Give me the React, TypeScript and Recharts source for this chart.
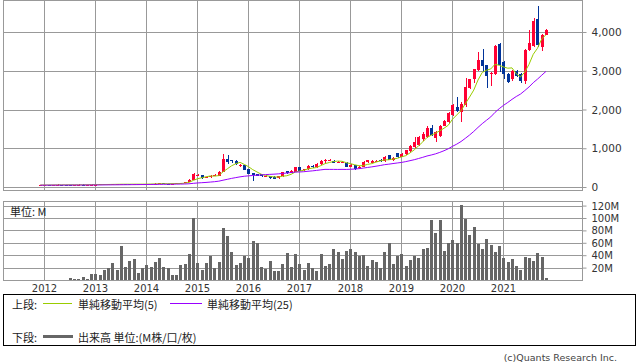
import React from 'react';
import { ComposedChart, Bar, Line, XAxis, YAxis, CartesianGrid } from 'recharts';

// Month index: 0 = Jan 2012; series start at Dec 2011 (-1) and end at Nov 2021 (118)
const FIRST_MONTH = -1;

const openPrices = [
  60, 62, 66, 64, 70, 74, 68, 66, 65, 72, 76, 71, 75,
  76, 76, 78, 80, 82, 84, 85, 88, 86, 84, 85, 86,
  88, 90, 95, 100, 104, 100, 96, 100, 105, 120, 135, 200,
  315, 320, 245, 265, 300, 300, 400, 724, 700, 690, 560, 575,
  465, 370, 350, 340, 290, 284, 280, 240, 285, 420, 385, 405,
  525, 440, 470, 555, 520, 600, 680, 700, 690, 640, 650, 640,
  540, 570, 500, 540, 650, 640, 660, 720, 680, 830, 700, 880,
  790, 860, 940, 1040, 1100, 1240, 1300, 1540, 1290, 1320, 1600, 1690,
  1860, 2080, 1950, 2120, 2576, 2790, 3030, 3300, 3150, 2940, 2920, 3714,
  3240, 2920, 2790, 3000, 2940, 2740, 3540, 3650, 4360, 3630, 3945,
];
const highPrices = [
  65, 70, 68, 73, 78, 76, 70, 68, 74, 79, 78, 77, 79,
  80, 81, 84, 86, 88, 88, 96, 92, 90, 89, 88, 90,
  94, 98, 104, 110, 106, 102, 103, 108, 126, 140, 210, 362,
  355, 330, 280, 320, 350, 415, 870, 836, 720, 710, 610, 585,
  470, 380, 360, 350, 320, 290, 290, 300, 400, 430, 440, 540,
  540, 490, 570, 570, 640, 700, 740, 740, 700, 690, 690, 660,
  600, 590, 560, 690, 720, 700, 720, 740, 820, 850, 790, 900,
  890, 980, 1090, 1300, 1340, 1420, 1580, 1620, 1450, 1620, 1740, 1940,
  2160, 2330, 2200, 2820, 2810, 3070, 3500, 3585, 3160, 2980, 3670, 3730,
  3260, 2950, 3020, 3030, 2960, 3570, 4075, 4380, 4680, 3960, 4090,
];
const lowPrices = [
  58, 60, 62, 63, 68, 66, 64, 62, 64, 70, 69, 70, 73,
  73, 75, 77, 78, 80, 81, 83, 84, 82, 82, 83, 84,
  86, 88, 93, 98, 97, 93, 94, 98, 103, 115, 130, 190,
  285, 230, 235, 255, 285, 290, 390, 595, 640, 590, 540, 440,
  340, 180, 290, 280, 270, 230, 215, 230, 280, 350, 370, 400,
  420, 420, 460, 500, 510, 590, 640, 680, 620, 620, 630, 530,
  520, 440, 480, 530, 630, 620, 650, 670, 670, 700, 680, 760,
  780, 850, 920, 1020, 1080, 1200, 1280, 1340, 1170, 1300, 1580, 1660,
  1840, 1960, 1690, 2080, 2550, 2700, 3000, 2980, 2576, 2630, 2900, 2980,
  2800, 2700, 2760, 2850, 2700, 2680, 3520, 3630, 3630, 3520, 3940,
];
const closePrices = [
  62, 66, 64, 70, 74, 68, 66, 65, 72, 76, 71, 75, 76,
  76, 78, 80, 82, 84, 85, 88, 86, 84, 85, 86, 88,
  90, 95, 100, 104, 100, 96, 100, 105, 120, 135, 200, 350,
  325, 245, 265, 300, 330, 400, 724, 650, 690, 600, 580, 460,
  355, 310, 300, 290, 300, 245, 230, 285, 390, 370, 420, 525,
  430, 470, 555, 520, 600, 680, 720, 705, 640, 660, 660, 540,
  580, 490, 540, 670, 700, 680, 690, 690, 800, 720, 770, 790,
  870, 960, 1070, 1170, 1300, 1380, 1540, 1360, 1430, 1600, 1720, 1920,
  2140, 1980, 2150, 2600, 2790, 3050, 3280, 3128, 2880, 2960, 3645, 3150,
  2920, 2720, 3000, 2890, 2740, 3540, 3720, 4300, 3670, 3945, 4075,
];
const ma5Values = [
  64, 64, 64, 65, 67, 68, 68, 69, 69, 69, 70, 72, 74,
  75, 75, 77, 78, 80, 82, 84, 85, 85, 86, 86, 86,
  87, 89, 92, 95, 98, 99, 100, 101, 104, 111, 132, 182,
  226, 251, 277, 297, 293, 308, 404, 481, 559, 613, 649, 596,
  537, 461, 401, 343, 311, 289, 273, 270, 290, 304, 339, 398,
  427, 443, 480, 500, 515, 565, 615, 645, 669, 681, 677, 641,
  616, 586, 562, 564, 596, 616, 656, 686, 712, 716, 734, 754,
  790, 822, 892, 972, 1074, 1176, 1292, 1350, 1402, 1462, 1530, 1606,
  1762, 1872, 1982, 2158, 2332, 2514, 2774, 2970, 3026, 3060, 3179, 3153,
  3111, 3079, 3087, 2936, 2854, 2978, 3178, 3438, 3594, 3835, 3942,
];
const ma25Values = [
  60, 60, 61, 61, 61, 62, 62, 62, 63, 63, 64, 64, 65,
  66, 66, 67, 68, 69, 70, 71, 72, 73, 74, 75, 76,
  77, 79, 80, 81, 82, 84, 85, 87, 88, 91, 96, 107,
  117, 124, 131, 140, 150, 163, 188, 211, 235, 255, 275, 290,
  301, 310, 318, 325, 333, 339, 344, 352, 363, 373, 385, 398,
  401, 407, 419, 429, 441, 455, 468, 467, 467, 466, 468, 466,
  471, 477, 486, 501, 517, 532, 550, 568, 589, 602, 618, 633,
  647, 668, 692, 717, 748, 779, 813, 839, 868, 906, 949, 999,
  1063, 1119, 1186, 1268, 1353, 1447, 1551, 1648, 1736, 1822, 1939, 2035,
  2120, 2194, 2275, 2348, 2411, 2501, 2594, 2705, 2797, 2898, 2997,
];
// volume in millions of shares
const volumeM = [
  1.0, 1.2, 0.8, 1.0, 1.0, 1.2, 1.0, 4.0, 2.5, 2.5, 5.7, 2.5, 10.6,
  10.6, 8.5, 17, 20.5, 29, 17, 55, 22, 32, 35, 12, 20.5,
  25, 21, 30, 37, 22.5, 20.5, 9.5, 9.5, 25, 27, 43.5, 100.5,
  28.5, 17.2, 28.5, 39.5, 19.5, 30, 84, 71, 46.7, 25.2, 28.5, 39.5,
  36.5, 64.5, 60.5, 22.2, 19, 31.6, 15.6, 15.6, 27, 45, 21, 42.3,
  27, 16.5, 28.7, 20.6, 15.8, 43.5, 23.8, 27, 51.6, 45.3, 35.2, 48.3,
  51.6, 46.6, 40.1, 41.8, 23.7, 33.6, 29.3, 20, 46.6, 60, 27, 39.6,
  43.4, 23.7, 33.6, 39, 36.9, 50, 52.2, 98.1, 76.8, 98.1, 47.2, 60,
  64.7, 60.9, 121, 99.7, 73.5, 86, 58.7, 50, 66.4, 57, 46.6, 54.9,
  36.9, 29.3, 35.2, 23.7, 17.7, 38.5, 36.9, 30.9, 45, 37.4, 4,
];

const yearTicks = [0, 12, 24, 36, 48, 60, 72, 84, 96, 108];
const yearLabels = ['2012', '2013', '2014', '2015', '2016', '2017', '2018', '2019', '2020', '2021'];
const priceTicks = [0, 1000, 2000, 3000, 4000];
const volumeTicks = [20, 40, 60, 80, 100, 120];

const data = openPrices.map((open, i) => ({
  m: FIRST_MONTH + i,
  open,
  high: highPrices[i],
  low: lowPrices[i],
  close: closePrices[i],
  range: [lowPrices[i], highPrices[i]],
  ma5: ma5Values[i],
  ma25: ma25Values[i],
  vol: volumeM[i],
}));

const X_DOMAIN: [number, number] = [-9.647, 126.588];
const GRID = '#999999';
const UP = '#ff0033';
const DOWN = '#003399';
const FONT = "'DejaVu Sans', 'Noto Sans CJK JP', sans-serif";
const JP = "'Noto Sans CJK JP', 'DejaVu Sans', sans-serif";

const Candle = (props: any) => {
  const { x, y, width, height, payload } = props;
  if (!payload) return null;
  const { open, close, high, low } = payload;
  const color = close >= open ? UP : DOWN;
  const k = high > low ? height / (high - low) : 0;
  const yOf = (v: number) => y + (high - v) * k;
  const top = yOf(Math.max(open, close));
  const bot = yOf(Math.min(open, close));
  const bh = Math.max(1, bot - top);
  const cx = Math.round(x + width / 2) + 0.5;
  return (
    <g shapeRendering="crispEdges">
      <line x1={cx} x2={cx} y1={y} y2={y + height} stroke={color} strokeWidth={1} />
      <rect x={x} y={top} width={width} height={bh} fill={color} />
    </g>
  );
};

const VolBar = (props: any) => {
  const { x, y, width, height } = props;
  if (!(height > 0)) return null;
  return <rect x={x} y={y} width={width} height={height} fill="#666666" shapeRendering="crispEdges" />;
};

export default function App() {
  return (
    <div style={{ position: 'absolute', left: 0, top: 0, width: 638, height: 362, background: '#fff', fontFamily: FONT }}>
      <div style={{ position: 'absolute', left: 0, top: 0 }}>
        <ComposedChart width={638} height={197} data={data} margin={{ top: 0.5, right: 0, left: 3.5, bottom: 6.5 }}>
          <CartesianGrid stroke={GRID} strokeWidth={1} shapeRendering="crispEdges" />
          <XAxis dataKey="m" type="number" domain={X_DOMAIN} ticks={yearTicks} allowDataOverflow hide interval={0} />
          <YAxis
            orientation="right"
            width={55.5}
            domain={[-77.4, 4825.8]}
            allowDataOverflow
            ticks={priceTicks}
            interval={0}
            axisLine={false}
            tickLine={{ stroke: GRID }}
            tickSize={4}
            tickMargin={5}
            tickFormatter={(v: number) => v.toLocaleString('en-US')}
            tick={{ fill: '#333', fontSize: 10.5, fontFamily: FONT }}
          />
          <Bar dataKey="range" barSize={3} shape={(p: any) => <Candle {...p} />} isAnimationActive={false} />
          <Line dataKey="ma5" stroke="#99cc00" strokeWidth={1} dot={false} isAnimationActive={false} />
          <Line dataKey="ma25" stroke="#9900ff" strokeWidth={1} dot={false} isAnimationActive={false} />
        </ComposedChart>
      </div>
      <div style={{ position: 'absolute', left: 0, top: 195 }}>
        <ComposedChart width={638} height={101} data={data} margin={{ top: 6.5, right: 0, left: 3.5, bottom: 0 }}>
          <CartesianGrid stroke={GRID} strokeWidth={1} shapeRendering="crispEdges" />
          <XAxis
            dataKey="m"
            type="number"
            domain={X_DOMAIN}
            allowDataOverflow
            ticks={yearTicks}
            interval={0}
            height={15.5}
            axisLine={false}
            tickLine={false}
            tickSize={0}
            tickMargin={4}
            tickFormatter={(v: number) => yearLabels[yearTicks.indexOf(v)] ?? ''}
            tick={{ fill: '#333', fontSize: 10, fontFamily: FONT }}
          />
          <YAxis
            orientation="right"
            width={55.5}
            domain={[0, 127.4]}
            allowDataOverflow
            ticks={volumeTicks}
            interval={0}
            axisLine={false}
            tickLine={{ stroke: GRID }}
            tickSize={4}
            tickMargin={5}
            tickFormatter={(v: number) => `${v}M`}
            tick={{ fill: '#333', fontSize: 10, fontFamily: FONT }}
          />
          <Bar dataKey="vol" barSize={3} shape={(p: any) => <VolBar {...p} />} isAnimationActive={false} />
        </ComposedChart>
      </div>
      <svg width={638} height={362} style={{ position: 'absolute', left: 0, top: 0, pointerEvents: 'none' }}>
        <rect x={3.5} y={0.5} width={579} height={190} fill="none" stroke={GRID} shapeRendering="crispEdges" />
        <rect x={3.5} y={201.5} width={579} height={79} fill="none" stroke={GRID} shapeRendering="crispEdges" />
        <text x={10} y={211} dominantBaseline="central" fontSize={11} fill="#222" fontFamily={JP}>単位: M</text>
        <rect x={3.5} y={294.5} width={632} height={51} fill="none" stroke="#000" shapeRendering="crispEdges" />
        <text x={12} y={303.5} dominantBaseline="central" fontSize={11} fill="#222" fontFamily={JP}>上段:</text>
        <line x1={43} x2={72} y1={303.5} y2={303.5} stroke="#99cc00" strokeWidth={1} shapeRendering="crispEdges" />
        <text x={78} y={303.5} dominantBaseline="central" fontSize={11} fill="#222" fontFamily={JP}>単純移動平均(5)</text>
        <line x1={170} x2={202} y1={303.5} y2={303.5} stroke="#9900ff" strokeWidth={1} shapeRendering="crispEdges" />
        <text x={207} y={303.5} dominantBaseline="central" fontSize={11} fill="#222" fontFamily={JP}>単純移動平均(25)</text>
        <text x={12} y={336.5} dominantBaseline="central" fontSize={11} fill="#222" fontFamily={JP}>下段:</text>
        <line x1={43} x2={73} y1={336.5} y2={336.5} stroke="#666666" strokeWidth={3} shapeRendering="crispEdges" />
        <text x={78} y={336.5} dominantBaseline="central" fontSize={11} fill="#222" fontFamily={JP}>出来高 単位:(M株/口/枚)</text>
        <text x={617} y={357} dominantBaseline="central" textAnchor="end" fontSize={9.5} fill="#444" fontFamily={FONT}>(c)Quants Research Inc.</text>
      </svg>
    </div>
  );
}
